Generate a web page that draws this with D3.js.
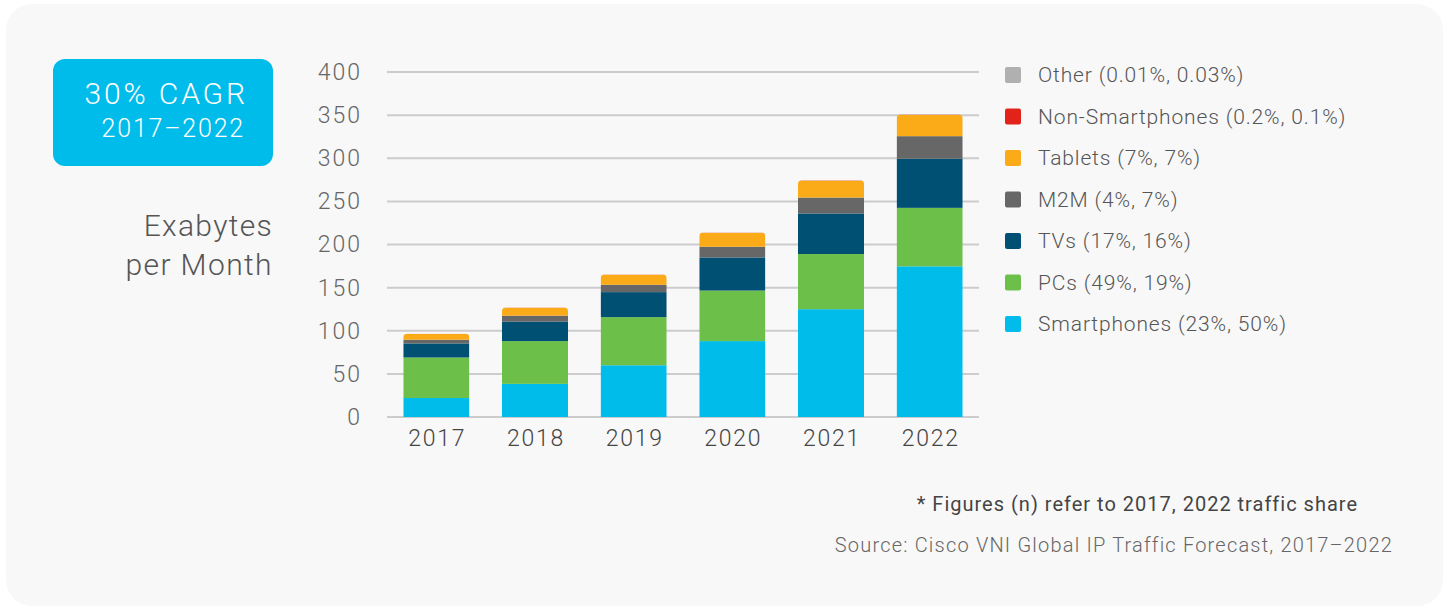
<!DOCTYPE html>
<html>
<head>
<meta charset="utf-8">
<script src="https://cdn.jsdelivr.net/npm/d3@7"></script>
<style>
  html, body { margin: 0; padding: 0; background: #fff; }
  svg { display: block; font-family: Roboto, "Open Sans", sans-serif; }
</style>
</head>
<body>
<div id="chart"></div>
<script>
// data (exabytes per month)
const years = ["2017", "2018", "2019", "2020", "2021", "2022"];
const smartphones = [22, 38.4, 60, 88, 125, 174.7];
const pcs = [47, 49.6, 55.8, 58.6, 64, 67.8];
const tvs = [16.3, 22.5, 29, 38.4, 47, 56.9];
const m2m = [4.3, 7, 8.5, 12.4, 18.4, 26.2];
const tablets = [6.8, 9.3, 11.7, 16.1, 19.6, 24.6];
const nonSmartphones = [0.2, 0.25, 0.3, 0.3, 0.35, 0.35];
const other = [0.01, 0.02, 0.03, 0.05, 0.07, 0.1];

const seriesNames = ["Smartphones", "PCs", "TVs", "M2M", "Tablets", "Non-Smartphones", "Other"];
const seriesColors = ["#00bceb", "#6cc04a", "#005073", "#676767", "#fbab18", "#e2231a", "#b0b0b0"];
const legendLabels = [
    "Other (0.01%, 0.03%)",
    "Non-Smartphones (0.2%, 0.1%)",
    "Tablets (7%, 7%)",
    "M2M (4%, 7%)",
    "TVs (17%, 16%)",
    "PCs (49%, 19%)",
    "Smartphones (23%, 50%)"
];
const yTicks = [0, 50, 100, 150, 200, 250, 300, 350, 400];

const allSeries = [smartphones, pcs, tvs, m2m, tablets, nonSmartphones, other];
const table = years.map((year, i) => {
    const row = { year: year };
    seriesNames.forEach((name, j) => { row[name] = allSeries[j][i]; });
    return row;
});

const W = 1449, H = 609;

const svg = d3.select("#chart")
    .append("svg")
    .attr("width", W)
    .attr("height", H);

// card
svg.append("rect")
    .attr("x", 6).attr("y", 4)
    .attr("width", 1437).attr("height", 602)
    .attr("rx", 26)
    .attr("fill", "#f8f8f8");

const x = d3.scaleBand()
    .domain(years)
    .range([387, 979])
    .paddingInner(0.33)
    .paddingOuter(0.165);

const y = d3.scaleLinear()
    .domain([0, 400])
    .range([417, 72]);

// grid lines
svg.append("g")
    .selectAll("line")
    .data(yTicks)
    .join("line")
    .attr("x1", 387).attr("x2", 979)
    .attr("y1", d => y(d)).attr("y2", d => y(d))
    .attr("stroke", "#cccccc")
    .attr("stroke-width", 2);

// y axis labels
const yAxis = svg.append("g")
    .attr("transform", "translate(368,0)")
    .call(d3.axisLeft(y).tickValues(yTicks).tickSize(0).tickPadding(6));
yAxis.select(".domain").remove();
yAxis.selectAll("text")
    .attr("font-size", 23)
    .attr("font-family", "Roboto, sans-serif")
    .attr("font-weight", 300)
    .attr("letter-spacing", 2)
    .attr("fill", "#666");

// x axis labels
const xAxis = svg.append("g")
    .attr("transform", "translate(1,417)")
    .call(d3.axisBottom(x).tickSize(0).tickPadding(13));
xAxis.select(".domain").remove();
xAxis.selectAll("text")
    .attr("font-size", 23)
    .attr("font-family", "Roboto, sans-serif")
    .attr("font-weight", 300)
    .attr("letter-spacing", 1.75)
    .attr("fill", "#444");

// stacked bars
const stack = d3.stack().keys(seriesNames);
const stacked = stack(table);

// rounded tops through a clip per bar
const defs = svg.append("defs");
table.forEach((d, i) => {
    const total = d3.sum(seriesNames, k => d[k]);
    defs.append("clipPath")
        .attr("id", "clip" + i)
        .append("rect")
        .attr("x", x(d.year))
        .attr("y", y(total))
        .attr("width", x.bandwidth())
        .attr("height", y(0) - y(total) + 6)
        .attr("rx", 4);
});

const barsG = svg.append("g");
table.forEach((d, i) => {
    barsG.append("g")
        .attr("clip-path", "url(#clip" + i + ")")
        .selectAll("rect")
        .data(stacked.map((s, j) => ({ seg: s[i], color: seriesColors[j] })))
        .join("rect")
        .attr("x", x(d.year))
        .attr("width", x.bandwidth())
        .attr("y", v => y(v.seg[1]))
        .attr("height", v => y(v.seg[0]) - y(v.seg[1]))
        .attr("fill", v => v.color);
});

// legend
const legendColors = seriesColors.slice().reverse();
const legend = svg.append("g")
    .selectAll("g")
    .data(legendLabels)
    .join("g")
    .attr("transform", (d, i) => "translate(1005," + (75 + i * 41.5) + ")");
legend.append("rect")
    .attr("x", 0).attr("y", -8)
    .attr("width", 16).attr("height", 16)
    .attr("rx", 2)
    .attr("fill", (d, i) => legendColors[i]);
legend.append("text")
    .attr("x", 33)
    .attr("dy", "0.35em")
    .attr("font-size", 21)
    .attr("font-weight", 300)
    .attr("letter-spacing", 0.85)
    .attr("fill", "#555")
    .text(d => d);

// CAGR badge
svg.append("rect")
    .attr("x", 53).attr("y", 59)
    .attr("width", 220).attr("height", 107)
    .attr("rx", 12)
    .attr("fill", "#00bceb");
svg.append("text")
    .attr("x", 248).attr("y", 104)
    .attr("text-anchor", "end")
    .attr("font-size", 30)
    .attr("font-weight", 300)
    .attr("letter-spacing", 2.9)
    .attr("fill", "#fff")
    .text("30% CAGR");
svg.append("text")
    .attr("x", 245).attr("y", 137)
    .attr("text-anchor", "end")
    .attr("font-size", 25)
    .attr("font-weight", 300)
    .attr("letter-spacing", 1.8)
    .attr("fill", "#fff")
    .text("2017–2022");

// axis title
svg.append("text")
    .attr("x", 273).attr("y", 236)
    .attr("text-anchor", "end")
    .attr("font-size", 30)
    .attr("font-weight", 300)
    .attr("letter-spacing", 1.3)
    .attr("fill", "#555")
    .text("Exabytes");
svg.append("text")
    .attr("x", 273).attr("y", 275)
    .attr("text-anchor", "end")
    .attr("font-size", 30)
    .attr("font-weight", 300)
    .attr("letter-spacing", 1.4)
    .attr("fill", "#555")
    .text("per Month");

// notes
svg.append("text")
    .attr("x", 1358).attr("y", 511)
    .attr("text-anchor", "end")
    .attr("font-size", 20)
    .attr("letter-spacing", 1)
    .attr("fill", "#444")
    .text("* Figures (n) refer to 2017, 2022 traffic share");
svg.append("text")
    .attr("x", 1393).attr("y", 552)
    .attr("text-anchor", "end")
    .attr("font-size", 20)
    .attr("font-weight", 300)
    .attr("letter-spacing", 1.2)
    .attr("fill", "#666")
    .text("Source: Cisco VNI Global IP Traffic Forecast, 2017–2022");
</script>
</body>
</html>
